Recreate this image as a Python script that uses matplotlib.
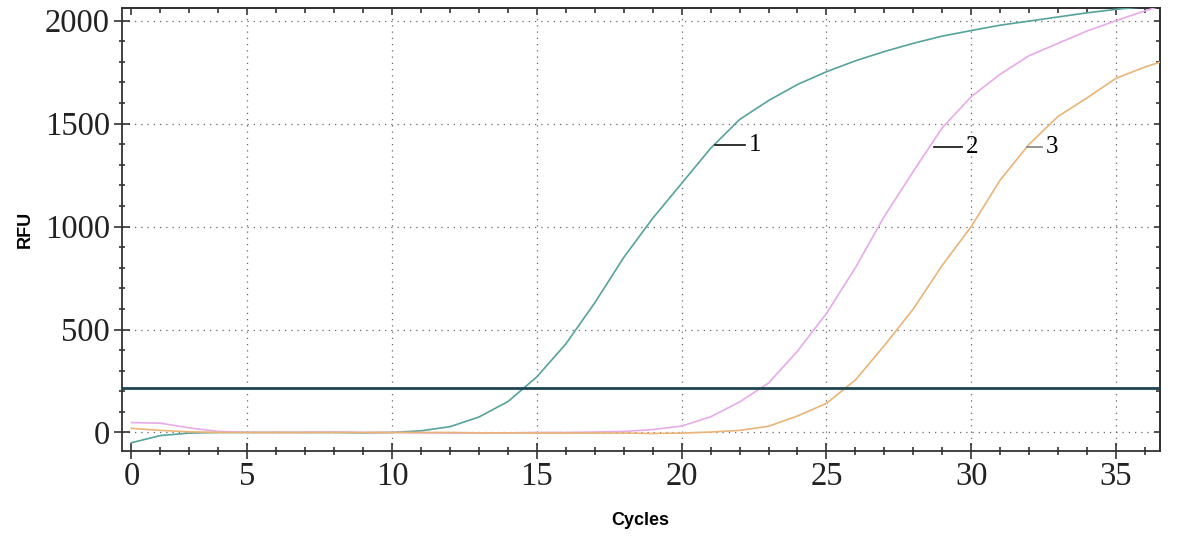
import matplotlib
matplotlib.use("Agg")
import matplotlib.pyplot as plt
from matplotlib.ticker import MultipleLocator

# cycle numbers and RFU readings for the three samples
cycles = list(range(1, 38))
rfu_1 = [-50, -15, -3, 0, 0, 0, 0, 0, -2, 0, 8, 28, 75, 150, 270, 430, 630, 850,
         1040, 1210, 1380, 1520, 1612, 1690, 1752, 1805, 1850, 1890, 1925, 1952,
         1978, 1998, 2018, 2038, 2055, 2068, 2080]
rfu_2 = [48, 45, 22, 5, 0, 0, 0, 2, 0, 0, -2, -3, -3, -2, 0, 0, 2, 5, 14, 31, 76,
         148, 240, 395, 578, 800, 1050, 1268, 1480, 1631, 1740, 1830, 1890, 1950,
         2000, 2048, 2090]
rfu_3 = [20, 10, 3, 0, 0, 0, 0, 0, 0, 0, 0, 0, -2, -2, -3, -3, -3, -3, -5, -3, 2,
         10, 30, 80, 141, 255, 422, 600, 812, 1000, 1226, 1400, 1535, 1625, 1720,
         1775, 1820]
threshold = 214

colors = ['#55a39b', '#e8aae8', '#eab476']
names = ['1', '2', '3']
# leader line start / end (cycle) and height of each curve label
label_x0 = [21.16, 28.70, 31.92]
label_x1 = [22.19, 29.68, 32.44]
label_y = [1396, 1388, 1388]
leader_col = ['#222222', '#222222', '#8a8a8a']

xtick_pos = [1, 5, 10, 15, 20, 25, 30, 35]
xtick_lab = ['0', '5', '10', '15', '20', '25', '30', '35']
ytick_pos = [0, 500, 1000, 1500, 2000]

fig = plt.figure(figsize=(11.81, 5.36), dpi=100)
ax = fig.add_axes([0.103, 0.159, 0.879, 0.8255])

for y, c in zip([rfu_1, rfu_2, rfu_3], colors):
    ax.plot(cycles, y, color=c, lw=1.2, zorder=3)

ax.axhline(threshold, color='#1d4452', lw=2.0, zorder=4)

for x0, x1, yy, t, lc in zip(label_x0, label_x1, label_y, names, leader_col):
    ax.plot([x0, x1], [yy, yy], color=lc, lw=1.3, zorder=5)
    ax.text(x1 + 0.12, yy, t, fontsize=18, family='Liberation Serif',
            va='center', ha='left', zorder=5)

ax.set_xlim(0.66, 36.51)
ax.set_ylim(-89, 2060)

ax.set_xticks(xtick_pos)
ax.set_xticklabels(xtick_lab)
ax.set_yticks(ytick_pos)
ax.xaxis.set_minor_locator(MultipleLocator(1))
ax.yaxis.set_minor_locator(MultipleLocator(100))

for lab in ax.get_xticklabels() + ax.get_yticklabels():
    lab.set_fontfamily('Liberation Serif')
    lab.set_fontsize(23.5)

ax.tick_params(axis='x', which='major', direction='inout', length=12, width=1.1, pad=2, colors='#222222')
ax.tick_params(axis='x', which='minor', direction='inout', length=6, width=1.1, colors='#222222')
ax.tick_params(axis='y', which='major', direction='inout', length=11, width=1.1, pad=3, colors='#222222')
ax.tick_params(axis='y', which='minor', direction='inout', length=5, width=1.1, colors='#222222')

# ticks on the top and right edges point inwards
top = ax.secondary_xaxis('top')
top.set_xticks(xtick_pos)
top.set_xticklabels([])
top.xaxis.set_minor_locator(MultipleLocator(1))
top.tick_params(which='major', direction='in', length=5, width=1.1, colors='#222222')
top.tick_params(which='minor', direction='in', length=3.5, width=1.1, colors='#222222')
right = ax.secondary_yaxis('right')
right.set_yticks(ytick_pos)
right.set_yticklabels([])
right.yaxis.set_minor_locator(MultipleLocator(100))
right.tick_params(which='major', direction='in', length=4, width=1.1, colors='#222222')
right.tick_params(which='minor', direction='in', length=3, width=1.1, colors='#222222')

for sp in list(ax.spines.values()) + [top.spines['top'], right.spines['right']]:
    sp.set_color('#333333')
    sp.set_linewidth(1.3)

ax.grid(True, which='major', color='#666666', linestyle=(0, (1, 4)), lw=0.9, zorder=1)
ax.xaxis.get_gridlines()[0].set_visible(False)

ax.set_xlabel('Cycles', fontsize=13, fontweight='bold', family='Liberation Sans', labelpad=14)
ax.set_ylabel('RFU', fontsize=13, fontweight='bold', family='Liberation Sans', labelpad=8)

fig.savefig('out.png', dpi=100)
